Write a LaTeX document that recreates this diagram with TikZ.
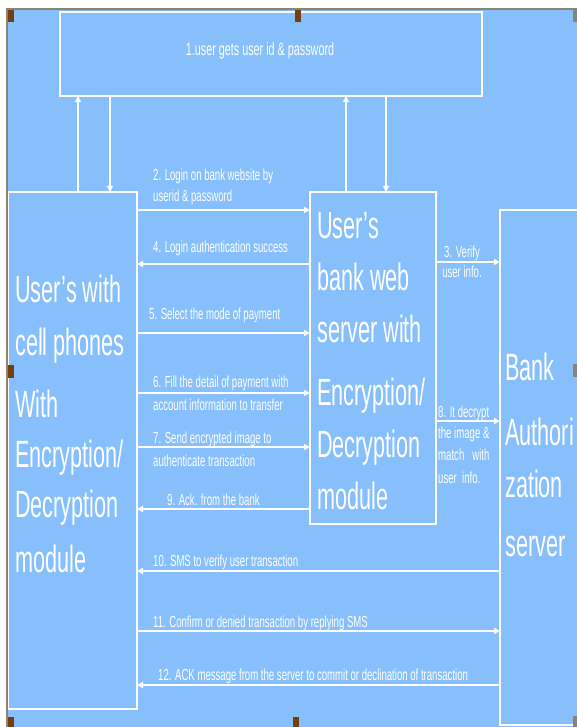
\documentclass[tikz,border=0pt]{standalone}
\usepackage{fontspec}
\setmainfont{Liberation Sans}
\newfontfamily\nar[FakeStretch=0.6]{Liberation Sans}
\newfontfamily\narbig[FakeStretch=0.57]{Liberation Sans}
\usetikzlibrary{arrows.meta}
\definecolor{bgblue}{RGB}{134,191,252}
\definecolor{handle}{RGB}{120,62,10}
\definecolor{rim}{RGB}{140,130,120}
\begin{document}
\begin{tikzpicture}[x=1pt,y=-1pt,
  box/.style={draw=white, line width=2pt, inner sep=0pt, outer sep=0pt, anchor=north west},
  arr/.style={draw=white, line width=1.8pt, -{Triangle[length=6pt,width=6pt]}},
  big/.style={text=white, font={\narbig\fontsize{38}{40}\selectfont}, anchor=base west, inner sep=0pt},
  lbl/.style={text=white, font={\nar\fontsize{16}{18}\selectfont}, anchor=base west, inner sep=0pt},
  toptxt/.style={text=white, font={\nar\fontsize{18}{20}\selectfont}, inner sep=0pt},
  hdl/.style={fill=handle}]
\useasboundingbox (0,0) rectangle (577,727);
\clip (0,0) rectangle (577,727);
\fill[white] (0,0) rectangle (577,727);
\fill[bgblue] (8,10) rectangle (577,727);

% boxes
\node[box, minimum width=422pt, minimum height=84pt] (top) at (60,12) {};
\node[box, minimum width=129pt, minimum height=517pt] (left) at (8,192) {};
\node[box, minimum width=126pt, minimum height=332pt] (web) at (310,192) {};
\node[box, minimum width=110pt, minimum height=515pt] (bank) at (500,210) {};

\node[toptxt] (t1) at (260,51) {1.user gets user id \& password};

% box texts
\foreach \t/\y [count=\i] in {User’s with/302, cell phones/355, With/417, Encryption\slash/467, Decryption/517, module/572}
  \node[big] (lt\i) at (15,\y) {\t};
\foreach \t/\y [count=\i] in {User’s/238, bank web/290, server with/342, Encryption\slash/405, Decryption/457, module/509}
  \node[big] (wt\i) at (317,\y) {\t};
\foreach \t/\y [count=\i] in {Bank/380, Authori/445, zation/497, server/556}
  \node[big] (bt\i) at (505,\y) {\t};

% vertical connectors
\draw[arr] (left.north -| 78,0) -- (top.south -| 78,0);
\draw[arr] (top.south -| 110,0) -- (left.north -| 110,0);
\draw[arr] (web.north -| 346,0) -- (top.south -| 346,0);
\draw[arr] (top.south -| 386,0) -- (web.north -| 386,0);

% horizontal connectors
\draw[arr] (left.east |- 0,210) -- (web.west |- 0,210);
\draw[arr] (web.west |- 0,264) -- (left.east |- 0,264);
\draw[arr] (left.east |- 0,333) -- (web.west |- 0,333);
\draw[arr] (left.east |- 0,393) -- (web.west |- 0,393);
\draw[arr] (left.east |- 0,447) -- (web.west |- 0,447);
\draw[arr] (web.west |- 0,509) -- (left.east |- 0,509);
\draw[arr] (web.east |- 0,262) -- (bank.west |- 0,262);
\draw[arr] (web.east |- 0,421) -- (bank.west |- 0,421);
\draw[arr] (bank.west |- 0,571) -- (left.east |- 0,571);
\draw[arr] (left.east |- 0,631) -- (bank.west |- 0,631);
\draw[arr] (bank.west |- 0,685) -- (left.east |- 0,685);

% labels
\node[lbl] (l2a) at (153,181) {2. Login on bank website by};
\node[lbl] (l2b) at (153,201) {userid \& password};
\node[lbl] (l4) at (153,252) {4. Login authentication success};
\node[lbl] (l5) at (149,319) {5. Select the mode of payment};
\node[lbl] (l6a) at (153,387) {6. Fill the detail of payment with};
\node[lbl] (l6b) at (153,410) {account information to transfer};
\node[lbl] (l7a) at (153,443) {7. Send encrypted image to};
\node[lbl] (l7b) at (153,466) {authenticate transaction};
\node[lbl] (l9) at (167,505) {9. Ack. from the bank};
\node[lbl] (l10) at (153,566) {10. SMS to verify user transaction};
\node[lbl] (l11) at (153,627) {11. Confirm or denied transaction by replying SMS};
\node[lbl] (l12) at (158,680) {12. ACK message from the server to commit or declination of transaction};
\node[lbl, anchor=base] (l3a) at (462,257) {3. Verify};
\node[lbl, anchor=base] (l3b) at (462,277) {user info.};
\node[lbl] (l8a) at (438,417) {8. It decrypt};
\node[lbl] (l8b) at (438,438) {the image \&};
\node[lbl] (l8c) at (438,460) {match~~~with};
\node[lbl] (l8d) at (438,483) {user~~info.};

% frame and handles
\draw[rim, line width=1.5pt] (7,727) -- (7,9) -- (577,9);
\fill[hdl] (8,10) rectangle (14,22);
\fill[hdl] (295,10) rectangle (301,22);
\fill[hdl] (8,365) rectangle (14,378);
\fill[hdl] (8,717) rectangle (14,727);
\fill[hdl] (293,717) rectangle (299,727);
\fill[rim] (573,10) rectangle (577,22);
\fill[rim] (573,364) rectangle (577,377);
\fill[rim] (573,716) rectangle (577,727);
\end{tikzpicture}
\end{document}
